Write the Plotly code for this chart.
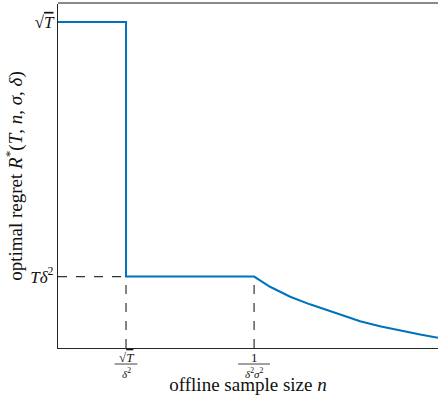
import plotly.graph_objects as go

# ---- data (abstract units) ----
n_values = [0.0, 1.79, 1.79, 5.16, 5.58, 6.11, 6.63, 7.16, 7.68, 7.95, 8.47, 9.0, 9.53, 10.0]
regret_values = [0.948, 0.948, 0.2075, 0.2075, 0.178, 0.149, 0.127, 0.1075, 0.0865, 0.078, 0.063, 0.050, 0.039, 0.030]

sqrtT_level = 0.948
Tdelta2_level = 0.2075
n_break1 = 1.79
n_break2 = 5.16

y_tick_vals = [Tdelta2_level, sqrtT_level]
y_tick_text = ["<i>Tδ</i><sup>2</sup>", "√<span style='text-decoration:overline'><i>T</i></span>"]

x_tick_num = ["√<span style='text-decoration:overline'><i>T</i></span>", "1"]
x_tick_den = ["<i>δ</i><sup>2</sup>", "<i>δ</i><sup>2</sup><i>σ</i><sup>2</sup>"]
x_tick_vals = [n_break1, n_break2]
x_frac_halfwidth = [0.3, 0.42]

FONT = "Liberation Serif"
LINE_BLUE = "#0072BD"
AX = "#262626"

fig = go.Figure()
fig.add_trace(go.Scatter(x=n_values, y=regret_values, mode="lines",
                         line=dict(color=LINE_BLUE, width=2), hoverinfo="skip",
                         showlegend=False))

# dashed guide lines
dash = dict(color="#333333", width=1.2, dash="dash")
fig.add_shape(type="line", x0=0, x1=n_break1, y0=Tdelta2_level, y1=Tdelta2_level,
              xref="x", yref="y", line=dash, layer="below")
fig.add_shape(type="line", x0=n_break1, x1=n_break1, y0=0, y1=Tdelta2_level,
              xref="x", yref="y", line=dash, layer="below")
fig.add_shape(type="line", x0=n_break2, x1=n_break2, y0=0, y1=Tdelta2_level,
              xref="x", yref="y", line=dash, layer="below")

# top frame edge (grey), placed a couple of pixels from the page top
fig.add_shape(type="line", x0=0, x1=1, xref="paper", yref="paper",
              ysizemode="pixel", yanchor=1, y0=1, y1=1,
              line=dict(color="#8a8a8a", width=2), layer="above")

# stacked-fraction x tick labels
for xv, num, den, hw in zip(x_tick_vals, x_tick_num, x_tick_den, x_frac_halfwidth):
    fig.add_annotation(x=xv, y=0, xref="x", yref="paper", text=num, showarrow=False,
                       yshift=-9, yanchor="middle", font=dict(family=FONT, size=13, color="#111"))
    fig.add_annotation(x=xv, y=0, xref="x", yref="paper", text=den, showarrow=False,
                       yshift=-25, yanchor="middle", font=dict(family=FONT, size=11, color="#111"))
    fig.add_shape(type="line", x0=xv - hw, x1=xv + hw, y0=-16, y1=-16, xref="x", yref="paper",
                  ysizemode="pixel", yanchor=0,
                  line=dict(color="#111", width=0.8))

fig.update_layout(
    width=438, height=400,
    margin=dict(l=58, r=0, t=4, b=52),
    paper_bgcolor="white", plot_bgcolor="white",
    font=dict(family=FONT, size=15, color="#111"),
    xaxis=dict(range=[0, 10], showgrid=False, zeroline=False, showline=True, automargin=False,
               linecolor=AX, linewidth=1.2, showticklabels=False, ticks="",
               title=dict(text="offline sample size <i>n</i>", font=dict(family=FONT, size=19),
                          standoff=29)),
    yaxis=dict(range=[0, 1], showgrid=False, zeroline=False, showline=True, automargin=False,
               linecolor=AX, linewidth=1.2, ticks="", tickvals=y_tick_vals,
               ticktext=y_tick_text, tickfont=dict(family=FONT, size=17),
               title=dict(text="optimal regret <i>R</i><sup>*</sup>(<i>T</i>, <i>n</i>, <i>σ</i>, <i>δ</i>)",
                          font=dict(family=FONT, size=19), standoff=2)),
)

fig.write_html("out.html", config={"displayModeBar": False},
               post_script="document.body.style.margin='0';document.body.style.overflow='hidden';")
